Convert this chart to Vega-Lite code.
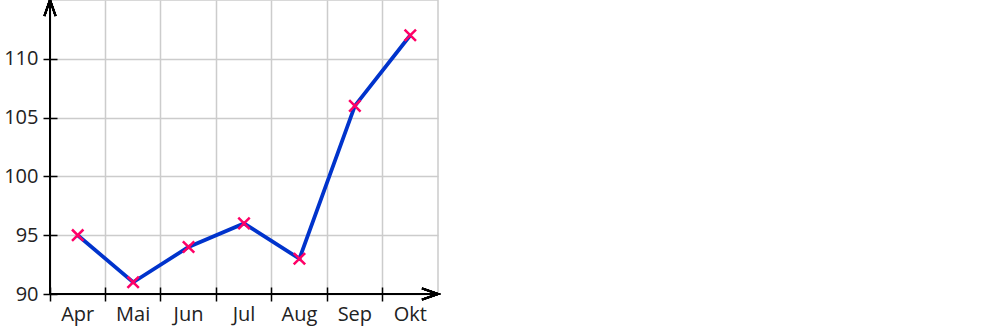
{
  "$schema": "https://vega.github.io/schema/vega-lite/v6.json",
  "autosize": "none",
  "width": 388,
  "height": 294,
  "padding": {"left": 50, "top": 0, "right": 562, "bottom": 34},
  "background": "white",
  "config": {
    "view": {"stroke": "#cccccc", "strokeWidth": 1.5},
    "axis": {
      "labelFont": "Open Sans",
      "labelFontSize": 20,
      "labelColor": "#222222",
      "tickColor": "#000000",
      "tickWidth": 1.5,
      "gridColor": "#cccccc",
      "gridWidth": 1.5,
      "gridOpacity": 1,
      "domain": false,
      "title": null
    }
  },
  "data": {
    "values": [
      {"month": "Apr", "v": 95},
      {"month": "Mai", "v": 91},
      {"month": "Jun", "v": 94},
      {"month": "Jul", "v": 96},
      {"month": "Aug", "v": 93},
      {"month": "Sep", "v": 106},
      {"month": "Okt", "v": 112}
    ]
  },
  "layer": [
    {
      "mark": {"type": "line", "color": "#0033cc", "strokeWidth": 3.8},
      "encoding": {
        "x": {
          "field": "month",
          "type": "nominal",
          "sort": null,
          "scale": {"type": "band", "paddingInner": 0, "paddingOuter": 0},
          "axis": {
            "orient": "bottom",
            "bandPosition": 0,
            "offset": -7,
            "tickSize": 14,
            "grid": true,
            "labelPadding": 3,
            "labelAngle": 0
          }
        },
        "y": {
          "field": "v",
          "type": "quantitative",
          "scale": {"domain": [90, 115], "nice": false, "zero": false},
          "axis": {
            "values": [90, 95, 100, 105, 110],
            "offset": -7,
            "tickSize": 14,
            "grid": true,
            "labelPadding": 5
          }
        }
      }
    },
    {
      "mark": {"type": "rule", "color": "#000000", "strokeWidth": 2},
      "encoding": {"y": {"datum": 90}}
    },
    {
      "mark": {"type": "rule", "color": "#000000", "strokeWidth": 2},
      "encoding": {"x": {"datum": "Apr", "bandPosition": 0}}
    },
    {
      "mark": {"type": "point", "shape": "M-1,-1L1,1M1,-1L-1,1", "size": 130, "filled": false, "color": "#ff0066", "strokeWidth": 2.5, "opacity": 1},
      "encoding": {
        "x": {"field": "month", "type": "nominal", "sort": null},
        "y": {"field": "v", "type": "quantitative"}
      }
    },
    {
      "mark": {"type": "point", "shape": "M-0.35,1L0,0L0.35,1", "size": 1024, "filled": false, "color": "#000000", "strokeWidth": 2, "opacity": 1, "clip": false},
      "encoding": {
        "x": {"datum": "Apr", "bandPosition": 0},
        "y": {"datum": 115}
      }
    },
    {
      "mark": {"type": "point", "shape": "M-1,-0.35L0,0L-1,0.35", "size": 1024, "filled": false, "color": "#000000", "strokeWidth": 2, "opacity": 1, "clip": false},
      "encoding": {
        "x": {"datum": "Okt", "bandPosition": 1},
        "y": {"datum": 90}
      }
    }
  ]
}
